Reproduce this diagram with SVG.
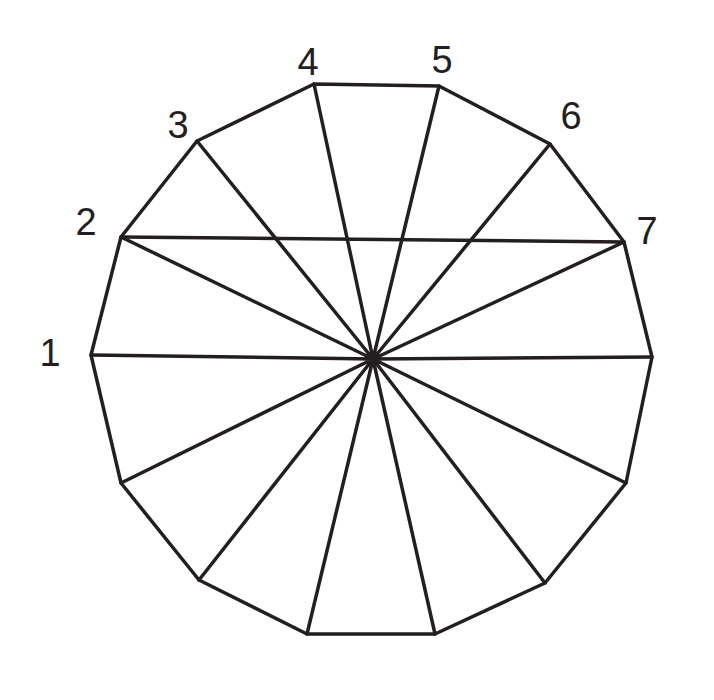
<svg xmlns="http://www.w3.org/2000/svg" width="714" height="700" viewBox="0 0 714 700">
<style>
.e{fill:none;stroke:#231f20;stroke-width:3.5;stroke-linejoin:round;stroke-linecap:round}
.l{font-family:"Liberation Sans",Arial,sans-serif;font-size:38px;fill:#231f20;text-anchor:middle}
</style>
<rect width="714" height="700" fill="#fff"/>
<g id="polygon">
<polygon class="e" points="91,355 121,237 197,141 314,84 439,86 550,144 624,242 652,357 626,483 545,583 435,634 307,634 199,580 121,483"/>
</g>
<g id="connectors">
<path class="e" d="M373,359 L91,355 M373,359 L121,237 M373,359 L197,141 M373,359 L314,84 M373,359 L439,86 M373,359 L550,144 M373,359 L624,242 M373,359 L652,357 M373,359 L626,483 M373,359 L545,583 M373,359 L435,634 M373,359 L307,634 M373,359 L199,580 M373,359 L121,483"/>
<path class="e" d="M121,237 L624,242"/>
</g>
<g id="labels">
<text class="l" x="50" y="366">1</text>
<text class="l" x="86" y="235">2</text>
<text class="l" x="178" y="138">3</text>
<text class="l" x="308" y="75">4</text>
<text class="l" x="442" y="73">5</text>
<text class="l" x="571" y="129">6</text>
<text class="l" x="647" y="244">7</text>
</g>
</svg>
